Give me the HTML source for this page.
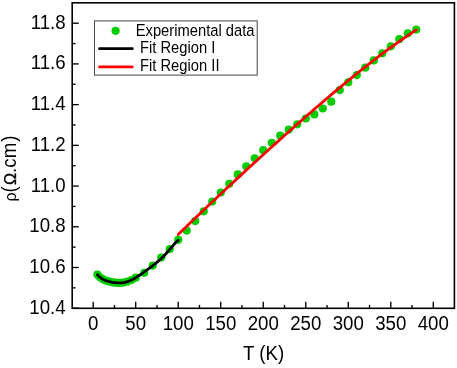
<!DOCTYPE html>
<html><head><meta charset="utf-8"><title>Resistivity fit</title>
<style>
html,body{margin:0;padding:0;background:#fff;}
body{width:457px;height:368px;overflow:hidden;position:relative;font-family:"Liberation Sans",sans-serif;}
svg{will-change:transform;transform:translateZ(0);}
</style></head><body>
<svg width="457" height="368" viewBox="0 0 457 368" style="position:absolute;left:0;top:0;font-family:'Liberation Sans',sans-serif;">
<circle cx="97.45" cy="274.72" r="4.1" fill="#00cd00"/>
<circle cx="100.00" cy="277.33" r="4.1" fill="#00cd00"/>
<circle cx="102.55" cy="279.07" r="4.1" fill="#00cd00"/>
<circle cx="105.10" cy="280.27" r="4.1" fill="#00cd00"/>
<circle cx="107.65" cy="281.15" r="4.1" fill="#00cd00"/>
<circle cx="110.21" cy="281.83" r="4.1" fill="#00cd00"/>
<circle cx="112.76" cy="282.35" r="4.1" fill="#00cd00"/>
<circle cx="115.31" cy="282.71" r="4.1" fill="#00cd00"/>
<circle cx="117.86" cy="282.90" r="4.1" fill="#00cd00"/>
<circle cx="120.41" cy="282.88" r="4.1" fill="#00cd00"/>
<circle cx="122.96" cy="282.63" r="4.1" fill="#00cd00"/>
<circle cx="127.21" cy="281.65" r="4.1" fill="#00cd00"/>
<circle cx="131.46" cy="279.98" r="4.1" fill="#00cd00"/>
<circle cx="135.71" cy="277.70" r="4.1" fill="#00cd00"/>
<circle cx="144.22" cy="272.80" r="4.1" fill="#00cd00"/>
<circle cx="152.72" cy="265.60" r="4.1" fill="#00cd00"/>
<circle cx="161.22" cy="257.50" r="4.1" fill="#00cd00"/>
<circle cx="169.72" cy="249.10" r="4.1" fill="#00cd00"/>
<circle cx="178.23" cy="239.80" r="4.1" fill="#00cd00"/>
<circle cx="186.73" cy="230.60" r="4.1" fill="#00cd00"/>
<circle cx="195.23" cy="221.10" r="4.1" fill="#00cd00"/>
<circle cx="203.73" cy="211.30" r="4.1" fill="#00cd00"/>
<circle cx="212.24" cy="201.50" r="4.1" fill="#00cd00"/>
<circle cx="220.74" cy="192.50" r="4.1" fill="#00cd00"/>
<circle cx="229.24" cy="183.80" r="4.1" fill="#00cd00"/>
<circle cx="237.74" cy="174.40" r="4.1" fill="#00cd00"/>
<circle cx="246.25" cy="166.30" r="4.1" fill="#00cd00"/>
<circle cx="254.75" cy="158.30" r="4.1" fill="#00cd00"/>
<circle cx="263.25" cy="150.20" r="4.1" fill="#00cd00"/>
<circle cx="271.75" cy="142.80" r="4.1" fill="#00cd00"/>
<circle cx="280.25" cy="135.50" r="4.1" fill="#00cd00"/>
<circle cx="288.76" cy="129.60" r="4.1" fill="#00cd00"/>
<circle cx="297.26" cy="124.30" r="4.1" fill="#00cd00"/>
<circle cx="305.76" cy="118.50" r="4.1" fill="#00cd00"/>
<circle cx="314.27" cy="114.40" r="4.1" fill="#00cd00"/>
<circle cx="322.77" cy="108.50" r="4.1" fill="#00cd00"/>
<circle cx="331.27" cy="101.70" r="4.1" fill="#00cd00"/>
<circle cx="339.77" cy="90.00" r="4.1" fill="#00cd00"/>
<circle cx="348.28" cy="82.25" r="4.1" fill="#00cd00"/>
<circle cx="356.78" cy="75.10" r="4.1" fill="#00cd00"/>
<circle cx="365.28" cy="67.70" r="4.1" fill="#00cd00"/>
<circle cx="373.78" cy="60.40" r="4.1" fill="#00cd00"/>
<circle cx="382.29" cy="53.30" r="4.1" fill="#00cd00"/>
<circle cx="390.79" cy="46.30" r="4.1" fill="#00cd00"/>
<circle cx="399.29" cy="39.20" r="4.1" fill="#00cd00"/>
<circle cx="407.79" cy="33.30" r="4.1" fill="#00cd00"/>
<circle cx="416.30" cy="29.60" r="4.1" fill="#00cd00"/>
<polyline fill="none" stroke="#000" stroke-width="2.80" stroke-linecap="round" stroke-linejoin="round" points="97.45,274.72 98.82,276.26 100.19,277.48 101.56,278.47 102.93,279.27 104.30,279.93 105.67,280.49 107.03,280.96 108.40,281.37 109.77,281.73 111.14,282.04 112.51,282.31 113.88,282.53 115.25,282.71 116.62,282.83 117.99,282.90 119.36,282.92 120.73,282.86 122.09,282.74 123.46,282.55 124.83,282.29 126.20,281.95 127.57,281.54 128.94,281.05 130.31,280.50 131.68,279.87 133.05,279.19 134.42,278.45 135.78,277.65 137.15,276.81 138.52,275.94 139.89,275.03 141.26,274.09 142.63,273.13 144.00,272.15 145.37,271.16 146.74,270.16 148.11,269.15 149.48,268.13 150.84,267.10 152.21,266.06 153.58,265.00 154.95,263.93 156.32,262.82 157.69,261.68 159.06,260.50 160.43,259.28 161.80,257.99 163.17,256.65 164.53,255.25 165.90,253.78 167.27,252.26 168.64,250.68 170.01,249.06 171.38,247.42 172.75,245.79 174.12,244.22 175.49,242.75 176.86,241.45 178.23,240.40"/>
<polyline fill="none" stroke="#ff0000" stroke-width="2.80" stroke-linecap="round" stroke-linejoin="round" points="178.23,234.53 181.24,231.60 184.25,228.67 187.27,225.76 190.28,222.85 193.29,219.96 196.31,217.07 199.32,214.19 202.33,211.31 205.35,208.45 208.36,205.59 211.37,202.74 214.39,199.90 217.40,197.06 220.41,194.23 223.43,191.41 226.44,188.59 229.46,185.78 232.47,182.98 235.48,180.18 238.50,177.39 241.51,174.60 244.52,171.82 247.54,169.05 250.55,166.28 253.56,163.52 256.58,160.76 259.59,158.01 262.60,155.27 265.62,152.53 268.63,149.79 271.64,147.07 274.66,144.35 277.67,141.64 280.69,138.93 283.70,136.23 286.71,133.54 289.73,130.85 292.74,128.18 295.75,125.51 298.77,122.85 301.78,120.19 304.79,117.55 307.81,114.91 310.82,112.28 313.83,109.67 316.85,107.06 319.86,104.46 322.88,101.88 325.89,99.30 328.90,96.74 331.92,94.19 334.93,91.65 337.94,89.12 340.96,86.61 343.97,84.11 346.98,81.62 350.00,79.15 353.01,76.70 356.02,74.26 359.04,71.84 362.05,69.43 365.06,67.05 368.08,64.68 371.09,62.33 374.11,60.00 377.12,57.69 380.13,55.40 383.15,53.14 386.16,50.90 389.17,48.68 392.19,46.49 395.20,44.32 398.21,42.17 401.23,40.06 404.24,37.97 407.25,35.91 410.27,33.88 413.28,31.88 416.30,29.92"/>
<rect x="72.2" y="2.8" width="382.20" height="305.50" fill="none" stroke="#000" stroke-width="1.6"/>
<line x1="93.20" y1="308.3" x2="93.20" y2="301.80" stroke="#000" stroke-width="1.35"/>
<line x1="114.46" y1="308.3" x2="114.46" y2="304.90" stroke="#000" stroke-width="1.35"/>
<line x1="135.71" y1="308.3" x2="135.71" y2="301.80" stroke="#000" stroke-width="1.35"/>
<line x1="156.97" y1="308.3" x2="156.97" y2="304.90" stroke="#000" stroke-width="1.35"/>
<line x1="178.23" y1="308.3" x2="178.23" y2="301.80" stroke="#000" stroke-width="1.35"/>
<line x1="199.48" y1="308.3" x2="199.48" y2="304.90" stroke="#000" stroke-width="1.35"/>
<line x1="220.74" y1="308.3" x2="220.74" y2="301.80" stroke="#000" stroke-width="1.35"/>
<line x1="241.99" y1="308.3" x2="241.99" y2="304.90" stroke="#000" stroke-width="1.35"/>
<line x1="263.25" y1="308.3" x2="263.25" y2="301.80" stroke="#000" stroke-width="1.35"/>
<line x1="284.51" y1="308.3" x2="284.51" y2="304.90" stroke="#000" stroke-width="1.35"/>
<line x1="305.76" y1="308.3" x2="305.76" y2="301.80" stroke="#000" stroke-width="1.35"/>
<line x1="327.02" y1="308.3" x2="327.02" y2="304.90" stroke="#000" stroke-width="1.35"/>
<line x1="348.28" y1="308.3" x2="348.28" y2="301.80" stroke="#000" stroke-width="1.35"/>
<line x1="369.53" y1="308.3" x2="369.53" y2="304.90" stroke="#000" stroke-width="1.35"/>
<line x1="390.79" y1="308.3" x2="390.79" y2="301.80" stroke="#000" stroke-width="1.35"/>
<line x1="412.04" y1="308.3" x2="412.04" y2="304.90" stroke="#000" stroke-width="1.35"/>
<line x1="433.30" y1="308.3" x2="433.30" y2="301.80" stroke="#000" stroke-width="1.35"/>
<line x1="72.2" y1="308.20" x2="78.70" y2="308.20" stroke="#000" stroke-width="1.35"/>
<line x1="72.2" y1="287.84" x2="75.60" y2="287.84" stroke="#000" stroke-width="1.35"/>
<line x1="72.2" y1="267.49" x2="78.70" y2="267.49" stroke="#000" stroke-width="1.35"/>
<line x1="72.2" y1="247.13" x2="75.60" y2="247.13" stroke="#000" stroke-width="1.35"/>
<line x1="72.2" y1="226.77" x2="78.70" y2="226.77" stroke="#000" stroke-width="1.35"/>
<line x1="72.2" y1="206.41" x2="75.60" y2="206.41" stroke="#000" stroke-width="1.35"/>
<line x1="72.2" y1="186.06" x2="78.70" y2="186.06" stroke="#000" stroke-width="1.35"/>
<line x1="72.2" y1="165.70" x2="75.60" y2="165.70" stroke="#000" stroke-width="1.35"/>
<line x1="72.2" y1="145.34" x2="78.70" y2="145.34" stroke="#000" stroke-width="1.35"/>
<line x1="72.2" y1="124.99" x2="75.60" y2="124.99" stroke="#000" stroke-width="1.35"/>
<line x1="72.2" y1="104.63" x2="78.70" y2="104.63" stroke="#000" stroke-width="1.35"/>
<line x1="72.2" y1="84.27" x2="75.60" y2="84.27" stroke="#000" stroke-width="1.35"/>
<line x1="72.2" y1="63.91" x2="78.70" y2="63.91" stroke="#000" stroke-width="1.35"/>
<line x1="72.2" y1="43.56" x2="75.60" y2="43.56" stroke="#000" stroke-width="1.35"/>
<line x1="72.2" y1="23.20" x2="78.70" y2="23.20" stroke="#000" stroke-width="1.35"/>
<text transform="translate(93.20,330.1) scale(1,1.04)" font-size="18.67" text-anchor="middle" fill="#000">0</text>
<text transform="translate(135.71,330.1) scale(1,1.04)" font-size="18.67" text-anchor="middle" fill="#000">50</text>
<text transform="translate(178.23,330.1) scale(1,1.04)" font-size="18.67" text-anchor="middle" fill="#000">100</text>
<text transform="translate(220.74,330.1) scale(1,1.04)" font-size="18.67" text-anchor="middle" fill="#000">150</text>
<text transform="translate(263.25,330.1) scale(1,1.04)" font-size="18.67" text-anchor="middle" fill="#000">200</text>
<text transform="translate(305.76,330.1) scale(1,1.04)" font-size="18.67" text-anchor="middle" fill="#000">250</text>
<text transform="translate(348.28,330.1) scale(1,1.04)" font-size="18.67" text-anchor="middle" fill="#000">300</text>
<text transform="translate(390.79,330.1) scale(1,1.04)" font-size="18.67" text-anchor="middle" fill="#000">350</text>
<text transform="translate(433.30,330.1) scale(1,1.04)" font-size="18.67" text-anchor="middle" fill="#000">400</text>
<text transform="translate(65.6,313.70) scale(1,1.04)" font-size="18.67" text-anchor="end" fill="#000">10.4</text>
<text transform="translate(65.6,272.99) scale(1,1.04)" font-size="18.67" text-anchor="end" fill="#000">10.6</text>
<text transform="translate(65.6,232.27) scale(1,1.04)" font-size="18.67" text-anchor="end" fill="#000">10.8</text>
<text transform="translate(65.6,191.56) scale(1,1.04)" font-size="18.67" text-anchor="end" fill="#000">11.0</text>
<text transform="translate(65.6,150.84) scale(1,1.04)" font-size="18.67" text-anchor="end" fill="#000">11.2</text>
<text transform="translate(65.6,110.13) scale(1,1.04)" font-size="18.67" text-anchor="end" fill="#000">11.4</text>
<text transform="translate(65.6,69.41) scale(1,1.04)" font-size="18.67" text-anchor="end" fill="#000">11.6</text>
<text transform="translate(65.6,28.70) scale(1,1.04)" font-size="18.67" text-anchor="end" fill="#000">11.8</text>
<text transform="translate(263.6,360.2) scale(1,1.04)" font-size="18.67" text-anchor="middle" fill="#000">T (K)</text>
<g transform="translate(15.6,201.6) rotate(-90)" fill="#000" font-size="18.67">
<text x="0.2" y="0" font-size="16">ρ</text>
<text transform="translate(9.1,0) scale(1,1.07)">(</text>
<text transform="translate(16.6,0) scale(0.98,1)" x="0" y="0" font-size="16.5" stroke="#000" stroke-width="0.35">Ω</text>
<text transform="translate(28.7,0) scale(1,1.07)">.</text>
<text transform="translate(33.95,0) scale(1,1.07)">c</text>
<text transform="translate(43.3,0) scale(1,1.07)">m</text>
<text transform="translate(59.9,0) scale(1,1.07)">)</text>
</g>
<rect x="94.5" y="20.9" width="162.7" height="54.2" fill="#fff" stroke="#444" stroke-width="1"/>
<circle cx="115.6" cy="30.8" r="4.1" fill="#00cd00"/>
<line x1="99.5" y1="48.7" x2="132.3" y2="48.7" stroke="#000" stroke-width="2.8" stroke-linecap="round"/>
<line x1="99.5" y1="66.9" x2="132.3" y2="66.9" stroke="#ff0000" stroke-width="2.8" stroke-linecap="round"/>
<text transform="translate(135.7,35.9) scale(1,1.1)" font-size="14.75" fill="#000">Experimental data</text>
<text transform="translate(140.0,53.2) scale(1,1.1)" font-size="14.75" fill="#000">Fit Region I</text>
<text transform="translate(140.0,71.2) scale(1,1.1)" font-size="14.75" fill="#000">Fit Region II</text>
</svg>
</body></html>
